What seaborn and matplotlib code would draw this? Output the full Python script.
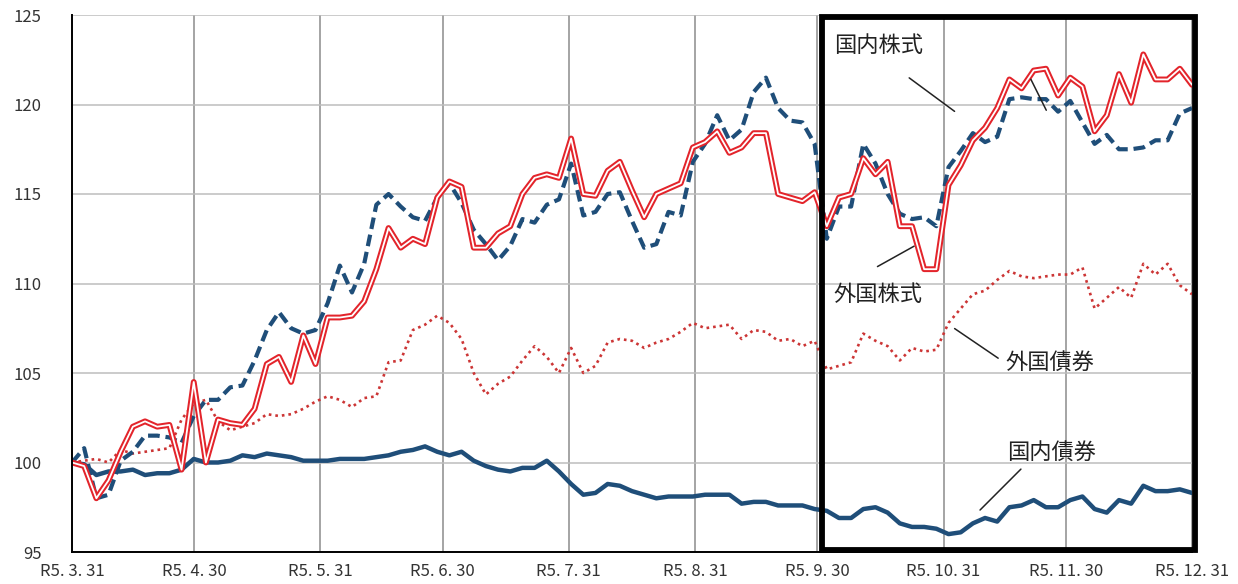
import matplotlib
matplotlib.use("Agg")
import pandas as pd
import matplotlib.pyplot as plt
import matplotlib.patheffects as pe
from matplotlib.patches import Rectangle
import seaborn as sns

dates = pd.date_range("2023-03-31", "2023-12-31", periods=93)

dom_stock = [100.0, 99.8, 98.0, 99.0, 100.6, 102.0, 102.3, 102.0, 102.1, 99.6,
             104.5, 100.0, 102.4, 102.2, 102.1, 103.0, 105.5, 105.9, 104.5, 107.1,
             105.5, 108.1, 108.1, 108.2, 109.0, 110.8, 113.1, 112.0, 112.5, 112.2,
             114.8, 115.7, 115.4, 112.0, 112.0, 112.8, 113.2, 115.0, 115.9, 116.1,
             115.9, 118.1, 115.0, 114.9, 116.3, 116.8, 115.2, 113.7, 115.0, 115.3,
             115.6, 117.6, 117.9, 118.5, 117.3, 117.6, 118.4, 118.4, 115.0, 114.8,
             114.6, 115.1, 113.2, 114.8, 115.0, 117.0, 116.1, 116.8, 113.2, 113.2,
             110.8, 110.8, 115.5, 116.6, 118.0, 118.7, 119.8, 121.4, 120.9, 121.9,
             122.0, 120.5, 121.5, 121.0, 118.5, 119.4, 121.7, 120.1, 122.8, 121.4,
             121.4, 122.0, 121.1]

for_stock = [100.0, 100.8, 98.0, 98.2, 100.1, 100.6, 101.5, 101.5, 101.4, 101.1,
             102.6, 103.5, 103.5, 104.2, 104.3, 105.7, 107.4, 108.4, 107.5, 107.2,
             107.4, 108.9, 111.0, 109.5, 111.1, 114.4, 115.0, 114.3, 113.7, 113.5,
             114.8, 115.6, 114.5, 113.0, 112.2, 111.3, 112.1, 113.6, 113.4, 114.4,
             114.7, 116.7, 113.8, 114.0, 115.0, 115.1, 113.5, 112.0, 112.2, 114.0,
             113.8, 116.8, 117.8, 119.4, 118.0, 118.6, 120.7, 121.5, 119.8, 119.1,
             119.0, 117.8, 112.5, 114.3, 114.3, 117.8, 116.7, 115.0, 113.9, 113.6,
             113.7, 113.2, 116.5, 117.4, 118.4, 117.9, 118.2, 120.3, 120.4, 120.3,
             120.3, 119.6, 120.2, 119.0, 117.8, 118.3, 117.5, 117.5, 117.6, 118.0,
             118.0, 119.5, 119.8]

for_bond = [100.0, 100.1, 100.2, 100.0, 100.7, 100.5, 100.6, 100.7, 100.8, 102.4,
            103.3, 103.5, 102.3, 101.8, 102.0, 102.2, 102.7, 102.6, 102.7, 103.0,
            103.4, 103.7, 103.5, 103.1, 103.6, 103.7, 105.6, 105.7, 107.4, 107.7,
            108.2, 107.8, 106.9, 105.0, 103.8, 104.4, 104.8, 105.7, 106.5, 105.9,
            105.0, 106.4, 105.0, 105.4, 106.7, 106.9, 106.8, 106.4, 106.7, 106.9,
            107.3, 107.8, 107.5, 107.6, 107.7, 106.9, 107.4, 107.3, 106.8, 106.9,
            106.5, 106.8, 105.2, 105.4, 105.6, 107.2, 106.8, 106.5, 105.7, 106.4,
            106.2, 106.3, 107.8, 108.6, 109.4, 109.6, 110.2, 110.7, 110.4, 110.3,
            110.4, 110.5, 110.5, 110.9, 108.6, 109.2, 109.8, 109.2, 111.1, 110.5,
            111.1, 109.9, 109.4]

dom_bond = [100.0, 99.9, 99.3, 99.5, 99.5, 99.6, 99.3, 99.4, 99.4, 99.6,
            100.2, 100.0, 100.0, 100.1, 100.4, 100.3, 100.5, 100.4, 100.3, 100.1,
            100.1, 100.1, 100.2, 100.2, 100.2, 100.3, 100.4, 100.6, 100.7, 100.9,
            100.6, 100.4, 100.6, 100.1, 99.8, 99.6, 99.5, 99.7, 99.7, 100.1,
            99.5, 98.8, 98.2, 98.3, 98.8, 98.7, 98.4, 98.2, 98.0, 98.1,
            98.1, 98.1, 98.2, 98.2, 98.2, 97.7, 97.8, 97.8, 97.6, 97.6,
            97.6, 97.4, 97.3, 96.9, 96.9, 97.4, 97.5, 97.2, 96.6, 96.4,
            96.4, 96.3, 96.0, 96.1, 96.6, 96.9, 96.7, 97.5, 97.6, 97.9,
            97.5, 97.5, 97.9, 98.1, 97.4, 97.2, 97.9, 97.7, 98.7, 98.4,
            98.4, 98.5, 98.3]

tick_dates = ["2023-03-31", "2023-04-30", "2023-05-31", "2023-06-30", "2023-07-31",
              "2023-08-31", "2023-09-30", "2023-10-31", "2023-11-30", "2023-12-31"]
tick_labels = ["R5. 3. 31", "R5. 4. 30", "R5. 5. 31", "R5. 6. 30", "R5. 7. 31",
               "R5. 8. 31", "R5. 9. 30", "R5. 10. 31", "R5. 11. 30", "R5. 12. 31"]

df = pd.DataFrame({"date": dates, "国内株式": dom_stock, "外国株式": for_stock,
                   "外国債券": for_bond, "国内債券": dom_bond})

sns.set_style("white")
plt.rcParams["font.family"] = ["Noto Sans CJK JP", "DejaVu Sans"]

navy = "#1f4e79"
red = "#e3242b"

fig = plt.figure(figsize=(12.38, 5.84), dpi=100)
ax = fig.add_axes([72 / 1238, 32 / 584, 1120 / 1238, 537 / 584])

sns.lineplot(data=df, x="date", y="国内債券", ax=ax, color=navy, lw=3.2, errorbar=None)
sns.lineplot(data=df, x="date", y="外国債券", ax=ax, color="#cc3535", lw=1.9,
             linestyle=(0, (1, 1.5)), errorbar=None)
sns.lineplot(data=df, x="date", y="外国株式", ax=ax, color=navy, lw=3.0,
             linestyle=(0, (2.8, 1.4)), errorbar=None)
sns.lineplot(data=df, x="date", y="国内株式", ax=ax, color="white", lw=1.3, errorbar=None,
             path_effects=[pe.Stroke(linewidth=4.2, foreground=red), pe.Normal()])

ax.set_xlim(dates[0], dates[-1])
ax.set_ylim(95, 125)
ax.set_yticks(range(95, 126, 5))
ax.set_xticks(pd.to_datetime(tick_dates))
ax.set_xticklabels(tick_labels)
ax.set_xlabel("")
ax.set_ylabel("")

ax.xaxis.grid(True, color="#8c8c8c", lw=1.1)
ax.yaxis.grid(True, color="#bdbdbd", lw=1.1)
ax.set_axisbelow(True)
for s in ["top", "right"]:
    ax.spines[s].set_visible(False)
for s in ["left", "bottom"]:
    ax.spines[s].set_color("black")
    ax.spines[s].set_linewidth(1.4)
ax.tick_params(axis="x", length=4, width=1, color="#555555", pad=4, labelsize=12,
               labelcolor="#333333")
ax.tick_params(axis="y", length=0, pad=22, labelsize=12, labelcolor="#333333")

# highlight box for the Oct-Dec quarter
ax.add_patch(Rectangle((0.670, 0.004), 0.333, 0.992, transform=ax.transAxes,
                       fill=False, lw=4.2, ec="black", clip_on=False, zorder=6))

# labels with leader lines
labels = [("国内株式", (0.720, 0.944), (0.7455, 0.886), (0.790, 0.8175)),
          ("外国株式", (0.720, 0.479), (0.717, 0.529), (0.754, 0.572)),
          ("外国債券", (0.873, 0.354), (0.829, 0.358), (0.786, 0.419)),
          ("国内債券", (0.875, 0.186), (0.849, 0.158), (0.809, 0.0745))]
for txt, pos, p0, p1 in labels:
    ax.text(pos[0], pos[1], txt, transform=ax.transAxes, ha="center", va="center",
            fontsize=16, color="#222222", zorder=7)
    ax.annotate("", xy=p1, xytext=p0, xycoords="axes fraction",
                arrowprops=dict(arrowstyle="-", lw=1.1, color="#222222"), zorder=7)
ax.annotate("", xy=(0.871, 0.818), xytext=(0.855, 0.885), xycoords="axes fraction",
            arrowprops=dict(arrowstyle="-", lw=1.1, color="#222222"), zorder=7)

fig.savefig("out.png", dpi=100)
